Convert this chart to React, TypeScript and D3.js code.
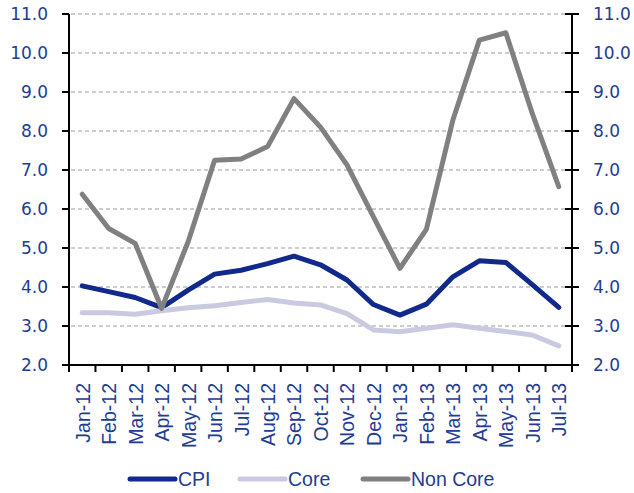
import * as React from "react";
import { scaleBand, scaleLinear, line, range } from "d3";

const months = [
  "Jan-12", "Feb-12", "Mar-12", "Apr-12", "May-12", "Jun-12", "Jul-12", "Aug-12", "Sep-12", "Oct-12",
  "Nov-12", "Dec-12", "Jan-13", "Feb-13", "Mar-13", "Apr-13", "May-13", "Jun-13", "Jul-13",
];
const cpi = [4.03, 3.88, 3.73, 3.47, 3.92, 4.33, 4.43, 4.6, 4.79, 4.57, 4.18, 3.55, 3.28, 3.56, 4.26, 4.67, 4.63, 4.06, 3.48];
const core = [3.34, 3.34, 3.3, 3.39, 3.47, 3.52, 3.6, 3.68, 3.59, 3.54, 3.32, 2.9, 2.85, 2.94, 3.03, 2.94, 2.86, 2.77, 2.49];
const nonCore = [6.38, 5.5, 5.12, 3.45, 5.16, 7.25, 7.28, 7.6, 8.83, 8.1, 7.13, 5.8, 4.48, 5.48, 8.28, 10.33, 10.52, 8.45, 6.57];
const yTicks = range(2, 12);

const series = [
  { name: "CPI", values: cpi, color: "#10298a" },
  { name: "Core", values: core, color: "#c9c9e1" },
  { name: "Non Core", values: nonCore, color: "#808080" },
];

const labelColor = "#223c93";

export default function App() {
  const left = 69;
  const right = 572;
  const top = 14;
  const bottom = 365;

  const x = scaleBand().domain(months).range([left, right]);
  const y = scaleLinear().domain([2, 11]).range([bottom, top]);
  const cx = (m: string) => (x(m) as number) + x.bandwidth() / 2;

  const path = line<number>()
    .x((_, i) => cx(months[i]))
    .y((d) => y(d));

  const legendX = [130, 240, 363];

  return (
    <svg width={634} height={493} style={{ position: "absolute", left: 0, top: 0, background: "#fff" }}>
      {/* grid */}
      {yTicks.filter((t) => t > 2).map((t) => (
        <line key={"g" + t} x1={left + 2} x2={right - 2} y1={y(t)} y2={y(t)}
          stroke="#bdbdbd" strokeWidth={1.3} strokeDasharray="4,3" />
      ))}

      {/* lines */}
      {series.map((s) => (
        <path key={s.name} d={path(s.values) || ""} fill="none" stroke={s.color}
          strokeWidth={5} strokeLinejoin="round" strokeLinecap="round" />
      ))}

      {/* axes */}
      <line x1={left} x2={left} y1={top} y2={bottom} stroke="#000" strokeWidth={2} />
      <line x1={right} x2={right} y1={top} y2={bottom + 7} stroke="#000" strokeWidth={2} />
      <line x1={left - 7} x2={right + 7} y1={bottom} y2={bottom} stroke="#000" strokeWidth={2} />

      {yTicks.map((t) => (
        <g key={"t" + t}>
          <line x1={left - 7} x2={left} y1={y(t)} y2={y(t)} stroke="#000" strokeWidth={2} />
          <line x1={right - 7} x2={right + 7} y1={y(t)} y2={y(t)} stroke="#000" strokeWidth={2} />
          <text x={48} y={y(t)} dy="0.36em" textAnchor="end" fill={labelColor}
            fontFamily="DejaVu Sans" fontSize={17}>{t.toFixed(1)}</text>
          <text x={593} y={y(t)} dy="0.36em" textAnchor="start" fill={labelColor}
            fontFamily="DejaVu Sans" fontSize={17}>{t.toFixed(1)}</text>
        </g>
      ))}

      {months.map((m) => (
        <g key={m}>
          <line x1={x(m) as number} x2={x(m) as number} y1={bottom} y2={bottom + 7} stroke="#000" strokeWidth={2} />
          <text transform={`translate(${cx(m)},383) rotate(-90)`} dy="0.38em" textAnchor="end"
            fill={labelColor} fontFamily="Liberation Sans, Arial, sans-serif" fontSize={19.5}>{m}</text>
        </g>
      ))}

      {/* legend */}
      {series.map((s, i) => (
        <g key={"l" + s.name} transform={`translate(${legendX[i]},479)`}>
          <line x1={0} x2={45} y1={0} y2={0} stroke={s.color} strokeWidth={5} strokeLinecap="round" />
          <text x={48} y={0} dy="0.36em" fill={labelColor}
            fontFamily="Liberation Sans, Arial, sans-serif" fontSize={19.5}>{s.name}</text>
        </g>
      ))}
    </svg>
  );
}
